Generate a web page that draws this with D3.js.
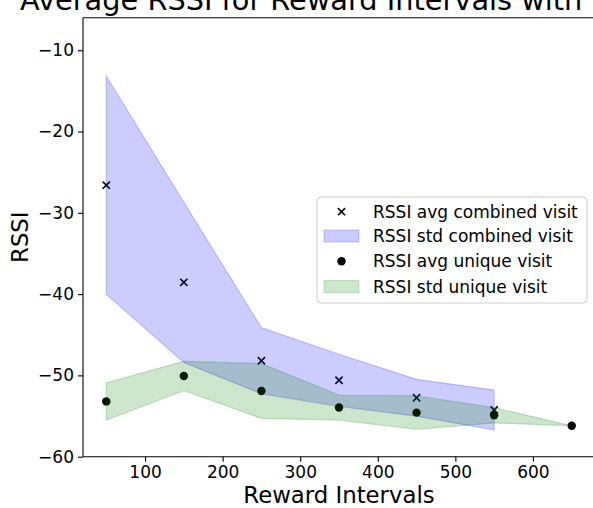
<!DOCTYPE html>
<html>
<head>
<meta charset="utf-8">
<script src="https://cdn.jsdelivr.net/npm/d3@7/dist/d3.min.js"></script>
<style>
  html, body { margin: 0; padding: 0; background: #fff; }
  svg { display: block; font-family: "DejaVu Sans", sans-serif; }
</style>
</head>
<body>
<svg id="chart" width="593" height="508"></svg>
<script>
// ---- data ----
const intervalsCombined = [50, 150, 250, 350, 450, 550];
const combinedAvg = [-26.6, -38.55, -48.2, -50.6, -52.75, -54.26];
const combinedStd = [13.43, 9.85, 4.07, 3.2, 2.27, 2.46];

const intervalsUnique = [50, 150, 250, 350, 450, 550, 650];
const uniqueAvg = [-53.2, -50.07, -51.92, -53.95, -54.58, -54.9, -56.2];
const uniqueStd = [2.3, 1.8, 3.37, 1.54, 2.05, 0.95, 0];

const xTicks = [100, 200, 300, 400, 500, 600];
const yTicks = [-60, -50, -40, -30, -20, -10];
const legendLabels = ["RSSI avg combined visit", "RSSI std combined visit", "RSSI avg unique visit", "RSSI std unique visit"];
const titleText = "Average RSSI for Reward Intervals with";
const xLabel = "Reward Intervals";
const yLabel = "RSSI";

// ---- layout ----
const svg = d3.select("#chart");
const mLeft = 83, mRight = 595, mTop = 17.7, mBottom = 456.7;

const x = d3.scaleLinear().domain([20, 680]).range([mLeft, mRight]);
const y = d3.scaleLinear().domain([-60, -6]).range([mBottom, mTop]);

const combined = intervalsCombined.map((v, i) => ({x: v, m: combinedAvg[i], s: combinedStd[i]}));
const unique = intervalsUnique.map((v, i) => ({x: v, m: uniqueAvg[i], s: uniqueStd[i]}));

const area = d3.area().x(d => x(d.x)).y0(d => y(d.m - d.s)).y1(d => y(d.m + d.s));

const plot = svg.append("g");

// crosses (combined avg)
const cr = 3.6;
plot.selectAll("path.cross").data(combined).enter().append("path")
  .attr("class", "cross")
  .attr("d", d => {
    const cx = x(d.x), cy = y(d.m);
    return `M${cx-cr},${cy-cr}L${cx+cr},${cy+cr}M${cx-cr},${cy+cr}L${cx+cr},${cy-cr}`;
  })
  .attr("stroke", "#000").attr("stroke-width", 1.6).attr("fill", "none");

// blue band
plot.append("path").datum(combined).attr("d", area)
  .attr("fill", "blue").attr("fill-opacity", 0.2)
  .attr("stroke", "blue").attr("stroke-opacity", 0.2).attr("stroke-width", 1.2);

// dots (unique avg)
plot.selectAll("circle.dot").data(unique).enter().append("circle")
  .attr("class", "dot")
  .attr("cx", d => x(d.x)).attr("cy", d => y(d.m)).attr("r", 4.2)
  .attr("fill", "#000");

// green band
plot.append("path").datum(unique).attr("d", area)
  .attr("fill", "green").attr("fill-opacity", 0.2)
  .attr("stroke", "green").attr("stroke-opacity", 0.2).attr("stroke-width", 1.2);

// ---- axes ----
const xAxis = d3.axisBottom(x).tickValues(xTicks).tickSize(5).tickPadding(4).tickSizeOuter(0);
const yAxis = d3.axisLeft(y).tickValues(yTicks).tickSize(5).tickPadding(4).tickSizeOuter(0);

const gx = svg.append("g").attr("transform", `translate(0,${mBottom})`).call(xAxis);
const gy = svg.append("g").attr("transform", `translate(${mLeft},0)`).call(yAxis);
[gx, gy].forEach(g => {
  g.select(".domain").remove();
  g.selectAll(".tick line").attr("stroke", "#000").attr("stroke-width", 1.1);
  g.selectAll(".tick text").attr("fill", "#000").style("font-size", "17px").style("font-family", "DejaVu Sans");
});
gx.selectAll(".tick text").attr("dy", "0.71em");

// spines
svg.append("line").attr("x1", mLeft).attr("x2", mLeft).attr("y1", mTop).attr("y2", mBottom)
  .attr("stroke", "#000").attr("stroke-width", 1.1);
svg.append("line").attr("x1", mLeft).attr("x2", mRight).attr("y1", mBottom).attr("y2", mBottom)
  .attr("stroke", "#000").attr("stroke-width", 1.1);
svg.append("line").attr("x1", mLeft).attr("x2", mRight).attr("y1", mTop).attr("y2", mTop)
  .attr("stroke", "#000").attr("stroke-width", 1.1);

// labels
svg.append("text").attr("x", (mLeft + mRight) / 2).attr("y", 503)
  .attr("text-anchor", "middle").style("font-size", "22.8px").text(xLabel);
svg.append("text").attr("transform", `translate(28,${(mTop + mBottom) / 2}) rotate(-90)`)
  .attr("text-anchor", "middle").style("font-size", "22.8px").text(yLabel);
svg.append("text").attr("x", 20).attr("y", 9.5)
  .attr("text-anchor", "start").style("font-size", "28.8px").text(titleText);

// ---- legend ----
const lg = svg.append("g");
lg.append("rect").attr("x", 317).attr("y", 197).attr("width", 270).attr("height", 106)
  .attr("rx", 4).attr("fill", "#fff").attr("fill-opacity", 0.8)
  .attr("stroke", "#cccccc").attr("stroke-width", 1);
const rowY = [211.7, 236, 261.3, 286.5];
const hx = 324, hw = 35, hh = 12;
legendLabels.forEach((lab, i) => {
  const cy = rowY[i];
  if (i === 0) {
    const cx = hx + hw / 2;
    lg.append("path").attr("d", `M${cx-cr},${cy-cr}L${cx+cr},${cy+cr}M${cx-cr},${cy+cr}L${cx+cr},${cy-cr}`)
      .attr("stroke", "#000").attr("stroke-width", 1.6);
  } else if (i === 2) {
    lg.append("circle").attr("cx", hx + hw / 2).attr("cy", cy).attr("r", 4.2).attr("fill", "#000");
  } else {
    const col = i === 1 ? "blue" : "green";
    lg.append("rect").attr("x", hx).attr("y", cy - hh / 2).attr("width", hw).attr("height", hh)
      .attr("fill", col).attr("fill-opacity", 0.2).attr("stroke", col).attr("stroke-opacity", 0.2);
  }
  lg.append("text").attr("x", 373).attr("y", cy).attr("dy", "0.36em")
    .style("font-size", "17px").text(lab);
});
</script>
</body>
</html>
